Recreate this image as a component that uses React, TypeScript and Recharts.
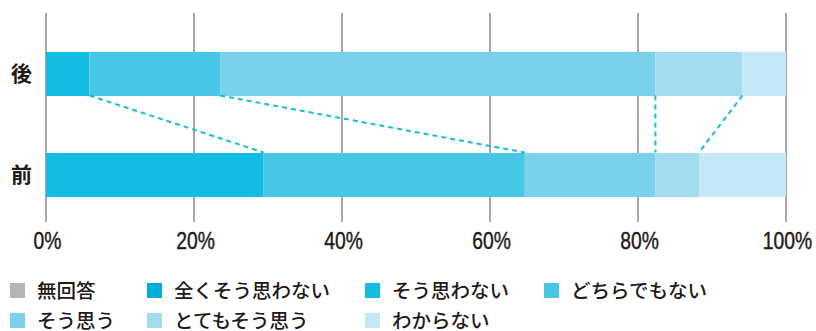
import React from 'react';
import {
  BarChart,
  Bar,
  XAxis,
  YAxis,
  CartesianGrid,
  Legend,
  ReferenceLine,
} from 'recharts';

// 回答者 17人 の比率 (%)
const categories = ['後', '前'];
const seriesNames = [
  '無回答',
  '全くそう思わない',
  'そう思わない',
  'どちらでもない',
  'そう思う',
  'とてもそう思う',
  'わからない',
];
const seriesColors = ['#b5b5b6', '#00afd8', '#13bde2', '#48c6e6', '#7ad1ec', '#a3dcef', '#c4e8f5'];
const afterValues = [0, 0, 5.88, 17.65, 58.82, 11.77, 5.88];
const beforeValues = [0, 0, 29.41, 35.3, 17.65, 5.88, 11.76];
const xTicks = [0, 20, 40, 60, 80, 100];
// 破線でつなぐ区切り (この系列の右端)
const linkedSeries = ['そう思わない', 'どちらでもない', 'そう思う', 'とてもそう思う'];

const valueRows = [afterValues, beforeValues];
const data = categories.map((name, r) => {
  const row: Record<string, string | number> = { name };
  seriesNames.forEach((s, i) => {
    row[s] = valueRows[r][i];
  });
  return row;
});

const cumulativeEnd = (values: number[], key: string) => {
  const idx = seriesNames.indexOf(key);
  return values.slice(0, idx + 1).reduce((a, b) => a + b, 0);
};

const BAR_SIZE = 44;
const TEXT = '#231815';
const JP = '"Noto Sans CJK JP", "Noto Sans", sans-serif';

const Connector = (props: any) => {
  const { x1, y1, x2, y2 } = props;
  if ([x1, y1, x2, y2].some((v) => typeof v !== 'number')) return null;
  const dir = Math.sign(y2 - y1) || 1;
  return (
    <line
      x1={x1}
      y1={y1 + (dir * BAR_SIZE) / 2}
      x2={x2}
      y2={y2 - (dir * BAR_SIZE) / 2}
      stroke="#13bde2"
      strokeWidth={2}
      strokeDasharray="5 4"
    />
  );
};

// 細めの数字 (コンデンス体の代わりに横方向を縮める)
const PercentTick = (props: any) => {
  const { x, y, payload } = props;
  return (
    <g transform={`translate(${x + 1.5},${y})`}>
      <text
        transform="scale(0.84,1)"
        textAnchor="middle"
        dy={17}
        fontSize={23}
        fill={TEXT}
        stroke={TEXT}
        strokeWidth={0.4}
        fontFamily='"Liberation Sans", Arial, sans-serif'
      >
        {`${payload.value}%`}
      </text>
    </g>
  );
};

const colWidths = [137, 218, 179, 200];

const LegendContent = () => {
  const rows = [seriesNames.slice(0, 4), seriesNames.slice(4)];
  return (
    <div style={{ fontFamily: JP, fontSize: 19.5, fontWeight: 500, color: TEXT }}>
      {rows.map((row, r) => (
        <div key={r} style={{ display: 'flex', height: 30 }}>
          {row.map((name, c) => {
            const i = seriesNames.indexOf(name);
            return (
              <div
                key={name}
                style={{ width: colWidths[c], display: 'flex', alignItems: 'center', flex: 'none' }}
              >
                <span
                  style={{
                    width: 15,
                    height: 15,
                    background: seriesColors[i],
                    display: 'inline-block',
                    marginRight: 12,
                  }}
                />
                <span style={{ whiteSpace: 'nowrap', lineHeight: '30px' }}>{name}</span>
              </div>
            );
          })}
        </div>
      ))}
    </div>
  );
};

export default function App() {
  return (
    <div style={{ width: 816, height: 331, background: '#fff' }}>
      <style>{'body{margin:0}'}</style>
      <BarChart
        width={816}
        height={331}
        data={data}
        layout="vertical"
        margin={{ top: 13, right: 30, left: 0, bottom: 79 }}
      >
        <CartesianGrid horizontal={false} stroke="#8a8a8a" strokeWidth={1.5} />
        <XAxis
          type="number"
          domain={[0, 100]}
          ticks={xTicks}
          axisLine={false}
          tickLine={false}
          tickMargin={4}
          height={30}
          tick={PercentTick}
        />
        <YAxis
          type="category"
          dataKey="name"
          width={46}
          axisLine={false}
          tickLine={false}
          tickMargin={8}
          padding={{ top: 10, bottom: -3 }}
          tick={{ fontSize: 21, fontWeight: 700, fill: TEXT, fontFamily: JP }}
        />
        {seriesNames.map((s, i) => (
          <Bar
            key={s}
            dataKey={s}
            stackId="a"
            fill={seriesColors[i]}
            barSize={BAR_SIZE}
            isAnimationActive={false}
          />
        ))}
        {linkedSeries.map((s) => (
          <ReferenceLine
            key={s}
            segment={[
              { x: cumulativeEnd(afterValues, s), y: '後' },
              { x: cumulativeEnd(beforeValues, s), y: '前' },
            ]}
            shape={Connector}
            ifOverflow="visible"
          />
        ))}
        <Legend
          layout="horizontal"
          verticalAlign="middle"
          align="center"
          content={LegendContent}
          wrapperStyle={{ top: 275, left: 10, width: 800 }}
        />
      </BarChart>
    </div>
  );
}
